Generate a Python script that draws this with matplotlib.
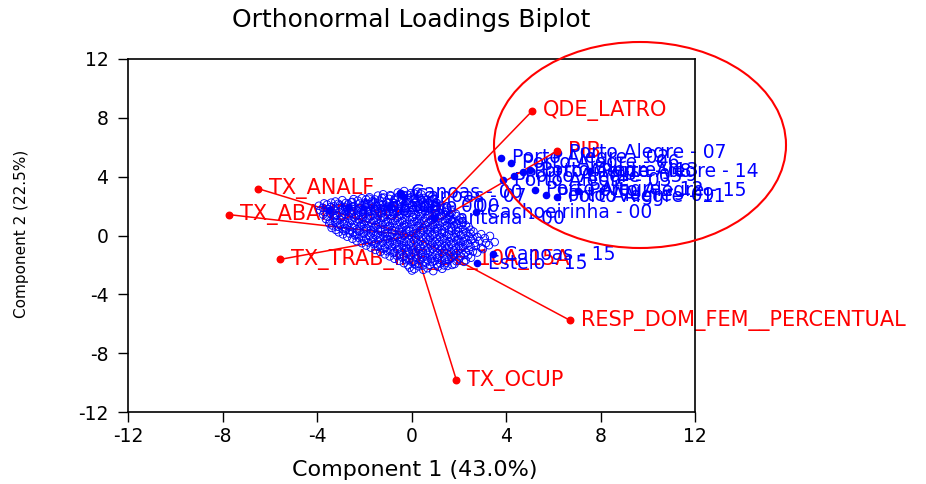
import matplotlib
matplotlib.use("Agg")
import matplotlib.pyplot as plt
from matplotlib.patches import Ellipse

plt.rcParams['font.family'] = ['DejaVu Sans']

# ---------------- data ----------------
title = "Orthonormal Loadings Biplot"
xlabel = "Component 1 (43.0%)"
ylabel = "Component 2 (22.5%)"
ticks = [-12, -8, -4, 0, 4, 8, 12]

# loading vectors (variables)
var_names = ["QDE_LATRO", "PIB", "TX_ANALF", "TX_ABANDONO", "TX_TRAB_INF_DE_10A_15A",
             "RESP_DOM_FEM__PERCENTUAL", "TX_OCUP"]
var_x = [5.11, 6.17, -6.50, -7.73, -5.58, 6.70, 1.90]
var_y = [8.47, 5.76, 3.19, 1.42, -1.63, -5.76, -9.83]

# labelled observations
lab_names = ["Porto Alegre - 07", "Porto Alegre - 02", "Porto Alegre - 06", "Porto Alegre - 13",
             "Porto Alegre - 14", "Porto Alegre - 03", "Porto Alegre - 05", "Porto Alegre - 12",
             "Porto Alegre - 15", "Porto Alegre - 11", "Porto Alegre - 09", "Porto Alegre - 08",
             "Canoas - 00", "Canoas - 07", "Esteio - 00", "Cachoeirinha - 00", "Santana - 00",
             "Alvorada - 00", "Viamão - 00", "Canoas - 15", "Esteio - 15"]
lab_x = [6.20, 3.79, 4.21, 5.02, 7.55, 3.87, 4.34, 5.23, 7.04, 6.16, 5.70, 4.70,
         -0.49, -0.32, -0.95, 2.75, 0.95, -2.68, -3.51, 3.44, 2.77]
lab_y = [5.61, 5.27, 4.96, 4.45, 4.38, 3.77, 4.04, 3.10, 3.03, 2.65, 2.72, 4.32,
         2.89, 2.62, 1.94, 1.58, 1.16, 1.94, 1.73, -1.26, -1.87]

# unlabelled observations (hollow circles)
obs_x = [
    -0.58, -0.31, -0.02, 0.27,
    -1.78, -1.42, -1.17, -0.88, -0.57, -0.33, -0.04, 0.31, 0.52, 0.87,
    -3.22, -2.93, -2.51, -2.27, -1.92, -1.68, -1.33, -1.07, -0.72, -0.48, -0.12, 0.18, 0.43, 0.78, 1.02,
    -3.92, -3.57, -3.28, -3.03, -2.68, -2.43, -2.08, -1.82, -1.47, -1.22, -0.87, -0.62, -0.28, 0.03,
    0.27, 0.62, 0.88, 1.22,
    -3.86, -3.53, -3.27, -2.92, -2.66, -2.33, -2.07, -1.73, -1.48, -1.13, -0.86, -0.52, -0.27, 0.08,
    0.33, 0.67, 0.93, 1.27, 1.52,
    -3.74, -3.43, -3.17, -2.83, -2.57, -2.22, -1.97, -1.63, -1.37, -1.02, -0.77, -0.42, -0.17, 0.18,
    0.43, 0.77, 1.03, 1.37, 1.62, 1.88,
    -3.62, -3.28, -3.02, -2.68, -2.42, -2.08, -1.82, -1.48, -1.22, -0.88, -0.62, -0.28, 0.02, 0.32,
    0.58, 0.92, 1.18, 1.52, 1.78, 2.07,
    -3.48, -3.22, -2.87, -2.62, -2.28, -2.02, -1.68, -1.42, -1.08, -0.82, -0.48, -0.22, 0.12, 0.38,
    0.72, 0.98, 1.32, 1.58, 1.92, 2.18,
    -3.38, -3.12, -2.77, -2.52, -2.18, -1.92, -1.58, -1.32, -0.98, -0.72, -0.38, -0.12, 0.22, 0.48,
    0.82, 1.08, 1.42, 1.68, 1.97, 2.42,
    -3.08, -2.82, -2.48, -2.22, -1.88, -1.62, -1.28, -1.02, -0.68, -0.42, -0.08, 0.18, 0.52, 0.78,
    1.12, 1.38, 1.72, 1.98, 2.32, 2.62,
    -2.72, -2.38, -2.12, -1.78, -1.52, -1.18, -0.92, -0.58, -0.32, 0.02, 0.28, 0.62, 0.88, 1.22,
    1.48, 1.82, 2.08, 2.42, 2.78, 3.32,
    -2.32, -2.02, -1.68, -1.42, -1.08, -0.82, -0.48, -0.22, 0.12, 0.38, 0.72, 0.98, 1.32, 1.58,
    1.92, 2.18, 2.52, 2.88, 3.52,
    -1.92, -1.58, -1.32, -0.98, -0.72, -0.38, -0.12, 0.22, 0.48, 0.82, 1.08, 1.42, 1.68, 2.02,
    2.28, 2.72, 3.28,
    -1.52, -1.18, -0.92, -0.58, -0.32, 0.02, 0.28, 0.62, 0.88, 1.22, 1.48, 1.82, 2.08, 2.42, 3.02,
    -1.12, -0.78, -0.52, -0.18, 0.08, 0.42, 0.68, 1.02, 1.28, 1.62, 1.88, 2.22, 2.78,
    -0.72, -0.38, -0.12, 0.22, 0.48, 0.82, 1.08, 1.42, 1.68, 2.02, 2.52,
    -0.32, 0.02, 0.28, 0.62, 0.88, 1.22, 1.48, 1.82, 2.22,
    -0.08, 0.32, 0.68, 1.12, 1.52,
    0.02, 0.92,
    # second, interleaved layer
    -1.20, -0.90, -0.45, -0.15, 0.12, 0.42,
    -2.45, -2.10, -1.80, -1.55, -1.25, -0.95, -0.70, -0.40, -0.15, 0.10, 0.38, 0.68, 0.95,
    -3.70, -3.40, -3.10, -2.78, -2.55, -2.20, -1.95, -1.60, -1.35, -1.00, -0.75, -0.45, -0.10, 0.12,
    0.48, 0.72, 1.08,
    -3.75, -3.42, -3.12, -2.80, -2.50, -2.20, -1.92, -1.62, -1.30, -1.05, -0.72, -0.43, -0.12, 0.20,
    0.47, 0.78, 1.05, 1.38,
    -3.68, -3.38, -3.05, -2.75, -2.45, -2.15, -1.85, -1.55, -1.25, -0.95, -0.62, -0.35, -0.02, 0.28,
    0.58, 0.88, 1.15, 1.45, 1.72,
    -3.55, -3.25, -2.95, -2.65, -2.35, -2.05, -1.75, -1.42, -1.15, -0.82, -0.55, -0.22, 0.08, 0.38,
    0.68, 0.98, 1.28, 1.60, 1.90,
    -3.45, -3.15, -2.82, -2.52, -2.22, -1.92, -1.60, -1.30, -1.00, -0.70, -0.40, -0.08, 0.22, 0.52,
    0.82, 1.12, 1.42, 1.72, 2.00,
    -3.35, -3.02, -2.72, -2.42, -2.12, -1.82, -1.52, -1.22, -0.92, -0.60, -0.30, 0.00, 0.30, 0.60,
    0.90, 1.20, 1.50, 1.80, 2.10, 2.30,
    -3.20, -2.92, -2.62, -2.32, -2.02, -1.72, -1.42, -1.12, -0.82, -0.52, -0.22, 0.08, 0.38, 0.68,
    0.98, 1.28, 1.58, 1.88, 2.18, 2.50,
    -2.90, -2.62, -2.32, -2.02, -1.72, -1.42, -1.12, -0.82, -0.52, -0.22, 0.08, 0.38, 0.68, 0.98,
    1.28, 1.58, 1.88, 2.18, 2.50, 2.95,
    -2.50, -2.22, -1.92, -1.62, -1.32, -1.02, -0.72, -0.42, -0.12, 0.18, 0.48, 0.78, 1.08, 1.38,
    1.68, 1.98, 2.28, 2.60, 3.10,
    -2.10, -1.82, -1.52, -1.22, -0.92, -0.62, -0.32, -0.02, 0.28, 0.58, 0.88, 1.18, 1.48, 1.78,
    2.08, 2.38, 2.68, 3.15,
    -1.72, -1.42, -1.12, -0.82, -0.52, -0.22, 0.08, 0.38, 0.68, 0.98, 1.28, 1.58, 1.88, 2.18,
    2.50, 2.95,
    -1.32, -1.02, -0.72, -0.42, -0.12, 0.18, 0.48, 0.78, 1.08, 1.38, 1.68, 1.98, 2.30, 2.60,
    -0.92, -0.62, -0.32, -0.02, 0.28, 0.58, 0.88, 1.18, 1.48, 1.78, 2.08, 2.40,
    -0.52, -0.22, 0.08, 0.38, 0.68, 0.98, 1.28, 1.58, 1.90, 2.30,
    -0.15, 0.15, 0.48, 0.78, 1.08, 1.38, 1.72,
    0.12, 0.50, 1.30,
]
obs_y = [
    2.92, 3.02, 2.88, 2.97,
    2.60, 2.71, 2.58, 2.68, 2.62, 2.74, 2.59, 2.66, 2.55, 2.63,
    2.31, 2.40, 2.28, 2.37, 2.44, 2.30, 2.36, 2.27, 2.41, 2.33, 2.38, 2.29, 2.42, 2.34, 2.26,
    2.02, 2.10, 1.98, 2.07, 2.12, 1.99, 2.05, 2.14, 2.00, 2.08, 1.96, 2.11, 2.03, 2.09,
    1.97, 2.06, 2.13, 2.01,
    1.71, 1.80, 1.68, 1.77, 1.83, 1.70, 1.76, 1.66, 1.81, 1.73, 1.79, 1.67, 1.84, 1.72,
    1.78, 1.69, 1.82, 1.74, 1.70,
    1.42, 1.50, 1.38, 1.47, 1.53, 1.40, 1.46, 1.36, 1.51, 1.43, 1.49, 1.37, 1.54, 1.41,
    1.48, 1.39, 1.52, 1.44, 1.40, 1.47,
    1.12, 1.20, 1.08, 1.17, 1.23, 1.10, 1.16, 1.06, 1.21, 1.13, 1.19, 1.07, 1.24, 1.11,
    1.18, 1.09, 1.22, 1.14, 1.10, 1.17,
    0.82, 0.90, 0.78, 0.87, 0.93, 0.80, 0.86, 0.76, 0.91, 0.83, 0.89, 0.77, 0.94, 0.81,
    0.88, 0.79, 0.92, 0.84, 0.80, 0.87,
    0.52, 0.60, 0.48, 0.57, 0.63, 0.50, 0.56, 0.46, 0.61, 0.53, 0.59, 0.47, 0.64, 0.51,
    0.58, 0.49, 0.62, 0.54, 0.50, 0.57,
    0.22, 0.30, 0.18, 0.27, 0.33, 0.20, 0.26, 0.16, 0.31, 0.23, 0.29, 0.17, 0.34, 0.21,
    0.28, 0.19, 0.32, 0.24, 0.20, 0.27,
    -0.08, 0.00, -0.12, -0.03, 0.03, -0.10, -0.04, -0.14, 0.01, -0.07, -0.01, -0.13, 0.04, -0.09,
    -0.02, -0.11, 0.02, -0.06, -0.10, -0.03,
    -0.38, -0.30, -0.42, -0.33, -0.27, -0.40, -0.34, -0.44, -0.29, -0.37, -0.31, -0.43, -0.26, -0.39,
    -0.32, -0.41, -0.28, -0.36, -0.45,
    -0.68, -0.60, -0.72, -0.63, -0.57, -0.70, -0.64, -0.74, -0.59, -0.67, -0.61, -0.73, -0.56, -0.69,
    -0.62, -0.71, -0.66,
    -0.98, -0.90, -1.02, -0.93, -0.87, -1.00, -0.94, -1.04, -0.89, -0.97, -0.91, -1.03, -0.86, -0.99, -0.92,
    -1.28, -1.20, -1.32, -1.23, -1.17, -1.30, -1.24, -1.34, -1.19, -1.27, -1.21, -1.33, -1.16,
    -1.58, -1.50, -1.62, -1.53, -1.47, -1.60, -1.54, -1.64, -1.49, -1.57, -1.51,
    -1.88, -1.80, -1.92, -1.83, -1.77, -1.90, -1.84, -1.94, -1.79,
    -2.18, -2.10, -2.22, -2.13, -2.07,
    -2.38, -2.42,
    # second, interleaved layer
    2.80, 2.74, 2.83, 2.77, 2.85, 2.79,
    2.47, 2.53, 2.50, 2.45, 2.55, 2.49, 2.52, 2.46, 2.54, 2.48, 2.51, 2.44, 2.50,
    2.18, 2.23, 2.16, 2.21, 2.25, 2.17, 2.20, 2.24, 2.15, 2.22, 2.19, 2.26, 2.17, 2.21,
    2.23, 2.16, 2.20,
    1.88, 1.93, 1.86, 1.91, 1.95, 1.87, 1.90, 1.94, 1.85, 1.92, 1.89, 1.96, 1.87, 1.91,
    1.93, 1.86, 1.90, 1.88,
    1.58, 1.63, 1.56, 1.61, 1.65, 1.57, 1.60, 1.64, 1.55, 1.62, 1.59, 1.66, 1.57, 1.61,
    1.63, 1.56, 1.60, 1.58, 1.62,
    1.28, 1.33, 1.26, 1.31, 1.35, 1.27, 1.30, 1.34, 1.25, 1.32, 1.29, 1.36, 1.27, 1.31,
    1.33, 1.26, 1.30, 1.28, 1.32,
    0.98, 1.03, 0.96, 1.01, 1.05, 0.97, 1.00, 1.04, 0.95, 1.02, 0.99, 1.06, 0.97, 1.01,
    1.03, 0.96, 1.00, 0.98, 1.02,
    0.68, 0.73, 0.66, 0.71, 0.75, 0.67, 0.70, 0.74, 0.65, 0.72, 0.69, 0.76, 0.67, 0.71,
    0.73, 0.66, 0.70, 0.68, 0.72, 0.69,
    0.38, 0.43, 0.36, 0.41, 0.45, 0.37, 0.40, 0.44, 0.35, 0.42, 0.39, 0.46, 0.37, 0.41,
    0.43, 0.36, 0.40, 0.38, 0.42, 0.39,
    0.08, 0.13, 0.06, 0.11, 0.15, 0.07, 0.10, 0.14, 0.05, 0.12, 0.09, 0.16, 0.07, 0.11,
    0.13, 0.06, 0.10, 0.08, 0.12, 0.09,
    -0.22, -0.17, -0.24, -0.19, -0.15, -0.23, -0.20, -0.16, -0.25, -0.18, -0.21, -0.14, -0.23, -0.19,
    -0.17, -0.24, -0.20, -0.22, -0.18,
    -0.52, -0.47, -0.54, -0.49, -0.45, -0.53, -0.50, -0.46, -0.55, -0.48, -0.51, -0.44, -0.53, -0.49,
    -0.47, -0.54, -0.50, -0.52,
    -0.82, -0.77, -0.84, -0.79, -0.75, -0.83, -0.80, -0.76, -0.85, -0.78, -0.81, -0.74, -0.83, -0.79,
    -0.77, -0.84,
    -1.12, -1.07, -1.14, -1.09, -1.05, -1.13, -1.10, -1.06, -1.15, -1.08, -1.11, -1.04, -1.13, -1.09,
    -1.42, -1.37, -1.44, -1.39, -1.35, -1.43, -1.40, -1.36, -1.45, -1.38, -1.41, -1.34,
    -1.72, -1.67, -1.74, -1.69, -1.65, -1.73, -1.70, -1.66, -1.75, -1.68,
    -2.02, -1.97, -2.04, -1.99, -1.95, -2.03, -2.00,
    -2.28, -2.33, -2.26,
]

RED = "#ff0000"
BLUE = "#0000ff"

fig = plt.figure(figsize=(9.26, 4.84), dpi=100)
ax = fig.add_axes([128 / 926, 1 - 412 / 484, 567 / 926, 353 / 484])
ax.set_xlim(-12, 12)
ax.set_ylim(-12, 12)
ax.set_xticks(ticks)
ax.set_yticks(ticks)
ax.set_xticklabels([str(t) for t in ticks])
ax.set_yticklabels([str(t) for t in ticks])
ax.tick_params(direction="out", length=7, width=1, labelsize=13.5, top=False, right=False)
ax.tick_params(axis="x", pad=4)
ax.tick_params(axis="y", pad=7)
for s in ax.spines.values():
    s.set_linewidth(1.2)

# loading vectors
for vx, vy, nm in zip(var_x, var_y, var_names):
    ax.plot([0, vx], [0, vy], color=RED, lw=1.1, zorder=2.5)
    ax.annotate(nm, (vx, vy), xytext=(11, 0), textcoords="offset pixels",
                va="center", ha="left", color=RED, fontsize=15, zorder=2, annotation_clip=False)
ax.scatter(var_x, var_y, s=22, color=RED, zorder=4.5, clip_on=False)

# labelled observations
for lx, ly, nm in zip(lab_x, lab_y, lab_names):
    ax.annotate(nm, (lx, ly), xytext=(11, 0), textcoords="offset pixels",
                va="center", ha="left", color=BLUE, fontsize=13.5, zorder=2, annotation_clip=False)

# unlabelled observations
ax.scatter(obs_x, obs_y, s=30, facecolors="none", edgecolors=BLUE, linewidths=0.65, zorder=3)
ax.scatter(lab_x, lab_y, s=20, color=BLUE, zorder=4)

fig.text(411 / 926, 1 - 20 / 484, title, ha="center", va="center", fontsize=18)
fig.text(415 / 926, 1 - 470 / 484, xlabel, ha="center", va="center", fontsize=16)
fig.text(22 / 926, 1 - 234 / 484, ylabel, ha="center", va="center", rotation=90, fontsize=11)

# highlighting ellipse
ell = Ellipse((640 / 926, 1 - 145 / 484), 292 / 926, 206 / 484, transform=fig.transFigure,
              fill=False, edgecolor=RED, lw=1.5, zorder=10)
fig.patches.append(ell)

fig.savefig("out.png", dpi=100)
